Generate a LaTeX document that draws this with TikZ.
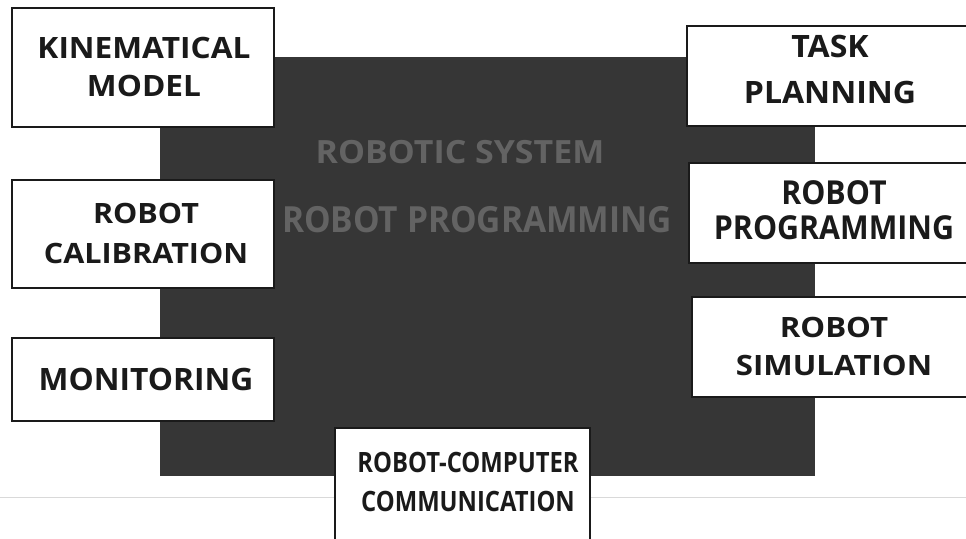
\documentclass[tikz,border=0pt]{standalone}
\usepackage{fontspec}
\setmainfont{Open Sans}
\definecolor{ink}{HTML}{1A1A1A}
\definecolor{dark}{HTML}{363636}
\definecolor{ghost}{HTML}{636363}
\newcommand\lblfont[3]{\fontsize{#1}{#2}\selectfont\bfseries\addfontfeatures{FakeStretch=#3}}
\tikzset{
  whitebox/.style={draw=ink, line width=1.3pt, fill=white},
  label/.style={text=ink, align=center, inner sep=0pt},
  ghostlabel/.style={text=ghost, align=center, inner sep=0pt}
}
\begin{document}
\begin{tikzpicture}[x=1pt,y=-1pt]
\useasboundingbox (0,0) rectangle (966,538);
\clip (0,0) rectangle (966,538);
% faint scan line
\draw[black!15, line width=0.6pt] (0,497) -- (966,497);
% central dark panel
\fill[dark] (160,57) rectangle (815,476);
\node[ghostlabel, font=\lblfont{32}{40}{1.06}] (sys) at (460,152) {ROBOTIC SYSTEM};
\node[ghostlabel, font=\lblfont{36}{44}{0.93}] (prog) at (477,220) {ROBOT PROGRAMMING};
% left boxes
\draw[whitebox] (12,8) rectangle (274,127);
\node[label, font=\lblfont{29.4}{38}{1.076}] (kin) at (144,67) {KINEMATICAL\\MODEL};
\draw[whitebox] (12,180) rectangle (274,288);
\node[label, font=\lblfont{28}{40}{1.09}] (cal) at (146,233) {ROBOT\\CALIBRATION};
\draw[whitebox] (12,338) rectangle (274,421);
\node[label, font=\lblfont{30.8}{38}{1.03}] (mon) at (146,379) {MONITORING};
% right boxes
\draw[whitebox] (687,26) rectangle (975,126);
\node[label, font=\lblfont{30.8}{46}{1.04}] (task) at (830,69) {TASK\\PLANNING};
\draw[whitebox] (689,163) rectangle (975,263);
\node[label, font=\lblfont{33}{35}{0.92}] (rprog) at (834,210) {ROBOT\\PROGRAMMING};
\draw[whitebox] (692,297) rectangle (975,397);
\node[label, font=\lblfont{28}{38}{1.115}] (sim) at (834,346) {ROBOT\\SIMULATION};
% bottom box
\draw[whitebox] (335,428) rectangle (590,545);
\node[label, font=\lblfont{28}{39}{0.85}] (comm) at (468,482) {ROBOT-COMPUTER\\COMMUNICATION};
\end{tikzpicture}
\end{document}
